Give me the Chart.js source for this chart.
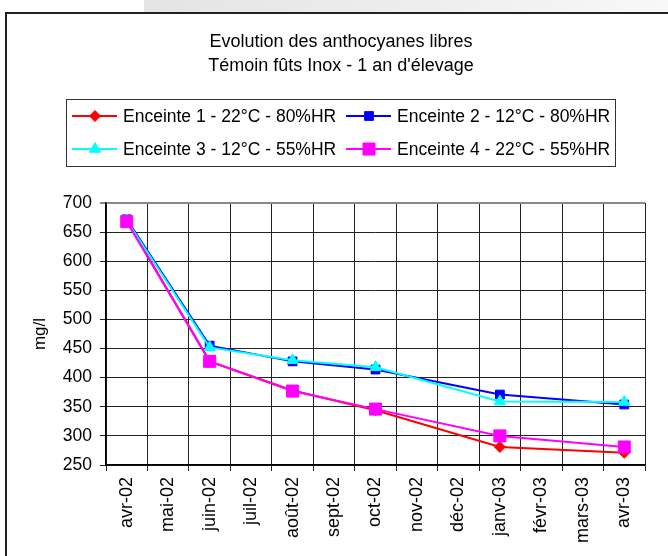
<!DOCTYPE html>
<html lang="fr">
<head>
<meta charset="UTF-8">
<title>Evolution des anthocyanes libres</title>
<script src="https://cdn.jsdelivr.net/npm/chart.js"></script>
<style>
  html, body { margin: 0; padding: 0; background: #fff; }
  #wrap { width: 668px; height: 556px; }
</style>
</head>
<body>
<div id="wrap"><canvas id="chart" width="668" height="556"></canvas></div>
<script>
// months on the date axis
const months = ['avr-02', 'mai-02', 'juin-02', 'juil-02', 'août-02', 'sept-02', 'oct-02',
                'nov-02', 'déc-02', 'janv-03', 'févr-03', 'mars-03', 'avr-03'];

// free anthocyanins, mg/l (null = no sample that month)
const enceinte1 = [670, null, 428, null, 378, null, 344, null, null, 281, null, null, 271];
const enceinte2 = [672, null, 455, null, 428, null, 414, null, null, 371, null, null, 354];
const enceinte3 = [670, null, 452, null, 430, null, 418, null, null, 359, null, null, 358];
const enceinte4 = [668, null, 428, null, 377, null, 346, null, null, 300, null, null, 281];

const seriesNames = ['Enceinte 1 - 22°C - 80%HR', 'Enceinte 2 - 12°C - 80%HR',
                     'Enceinte 3 - 12°C - 55%HR', 'Enceinte 4 - 22°C - 55%HR'];

const yMin = 250, yMax = 700, yStep = 50;

const FONT = '"Liberation Sans", Arial, sans-serif';

function ds(label, data, color, style, radius, order) {
    return {
        label: label,
        data: data,
        borderColor: color,
        backgroundColor: color,
        pointBackgroundColor: color,
        pointBorderColor: color,
        pointStyle: style,
        pointRadius: radius,
        pointBorderWidth: 1,
        borderWidth: 2,
        tension: 0,
        spanGaps: true,
        order: order
    };
}

// frame + grey strip at the top
const framePlugin = {
    id: 'frame',
    beforeDraw(chart) {
        const c = chart.ctx;
        c.save();
        c.fillStyle = '#fff';
        c.fillRect(0, 0, chart.width, chart.height);
        const g = c.createLinearGradient(144, 0, chart.width, 0);
        g.addColorStop(0, '#e4e4e4');
        g.addColorStop(0.6, '#efefef');
        g.addColorStop(1, '#f8f8f8');
        c.fillStyle = g;
        c.fillRect(144, 0, chart.width - 144, 12);
        c.strokeStyle = '#222';
        c.lineWidth = 2;
        c.beginPath();
        c.moveTo(chart.width, 13);
        c.lineTo(6, 13);
        c.lineTo(6, chart.height);
        c.stroke();
        c.restore();
    }
};

// boxed legend, two columns, line + marker samples
const boxLegend = {
    id: 'boxLegend',
    afterDraw(chart) {
        const c = chart.ctx;
        c.save();
        c.strokeStyle = '#333';
        c.lineWidth = 1;
        c.strokeRect(66.5, 99.5, 549, 67);
        const cols = [72, 346];
        const rows = [116, 149];
        chart.data.datasets.forEach((d, i) => {
            const x = cols[i % 2], y = rows[Math.floor(i / 2)];
            c.strokeStyle = d.borderColor;
            c.lineWidth = 2;
            c.beginPath();
            c.moveTo(x, y);
            c.lineTo(x + 45, y);
            c.stroke();
            c.fillStyle = d.pointBackgroundColor;
            c.strokeStyle = d.pointBorderColor;
            c.lineWidth = 1;
            Chart.helpers.drawPoint(c, {pointStyle: d.pointStyle, radius: d.pointRadius, rotation: 0, borderWidth: 1}, x + 23, y);
            c.fillStyle = '#000';
            c.font = '17.5px ' + FONT;
            c.textBaseline = 'middle';
            c.textAlign = 'left';
            c.fillText(d.label, x + 51, y + 1);
        });
        c.restore();
    }
};

const ctx = document.getElementById('chart').getContext('2d');
const chart = new Chart(ctx, {
    type: 'line',
    data: {
        labels: months,
        datasets: [
            ds(seriesNames[0], enceinte1, '#FF0000', 'rectRot', 5.5, 3),
            ds(seriesNames[1], enceinte2, '#0000FF', 'rect', 6.2, 2),
            ds(seriesNames[2], enceinte3, '#00FFFF', 'triangle', 6.5, 1),
            ds(seriesNames[3], enceinte4, '#FF00FF', 'rect', 8.5, 0)
        ]
    },
    options: {
        responsive: false,
        animation: false,
        layout: { padding: { left: 37, right: 23, top: 0, bottom: 0 } },
        plugins: {
            legend: { display: false },
            tooltip: { enabled: false },
            title: {
                display: true,
                text: ['Evolution des anthocyanes libres', 'Témoin fûts Inox - 1 an d\'élevage'],
                color: '#000',
                font: { family: FONT, size: 18, weight: 'normal', lineHeight: '24px' },
                padding: { top: 30, bottom: 125 }
            }
        },
        scales: {
            x: {
                type: 'category',
                offset: true,
                grid: {
                    offset: true,
                    color: (c) => c.index === months.length ? '#888' : '#222',
                    lineWidth: (c) => c.index === months.length ? 2 : 1,
                    tickLength: 6,
                    drawTicks: true
                },
                border: { color: '#000', width: 1.5 },
                ticks: {
                    color: '#000',
                    font: { family: FONT, size: 18 },
                    minRotation: 90,
                    maxRotation: 90,
                    autoSkip: false,
                    padding: 6
                },
                afterFit(scale) { scale.height = 91; }
            },
            y: {
                min: yMin,
                max: yMax,
                grid: {
                    color: (c) => c.tick && c.tick.value === yMax ? '#888' : '#222',
                    lineWidth: (c) => c.tick && c.tick.value === yMax ? 2 : 1,
                    tickLength: 6
                },
                border: { color: '#000', width: 1.5 },
                ticks: {
                    stepSize: yStep,
                    color: '#000',
                    font: { family: FONT, size: 17.5 },
                    padding: 8
                },
                title: {
                    display: true,
                    text: 'mg/l',
                    color: '#000',
                    font: { family: FONT, size: 17 },
                    padding: { top: -7, bottom: 0 }
                },
                afterFit(scale) { scale.width = 69; }
            }
        }
    },
    plugins: [framePlugin, boxLegend]
});
</script>
</body>
</html>
